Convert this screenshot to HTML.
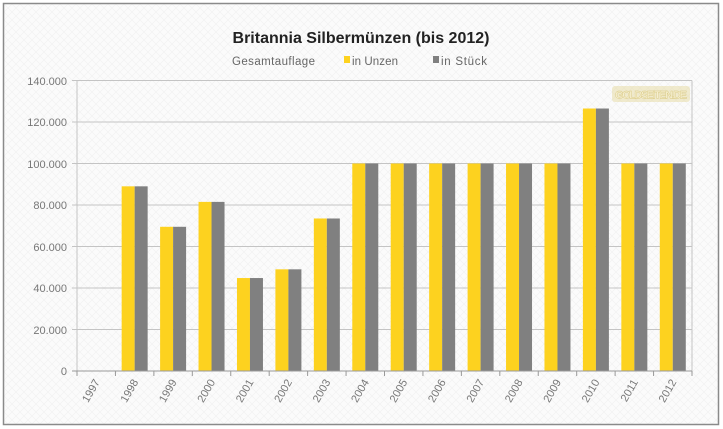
<!DOCTYPE html>
<html><head><meta charset="utf-8"><style>
html,body{margin:0;padding:0;background:#fff;}
svg{display:block;font-family:"Liberation Sans",sans-serif;}
</style></head><body>
<svg width="723" height="429" viewBox="0 0 723 429" xmlns="http://www.w3.org/2000/svg">
<defs>
<pattern id="p" width="8" height="8" patternUnits="userSpaceOnUse">
<rect width="8" height="8" fill="#fbfbfb"/>
<path d="M0 0L8 8M8 0L0 8" stroke="#f0f0f0" stroke-width="0.6"/>
</pattern>
</defs>
<rect x="3.5" y="3.5" width="715" height="421" fill="url(#p)" stroke="#8a8a8a" stroke-width="1.5"/>
<text x="361" y="43" text-anchor="middle" font-size="16" font-weight="bold" fill="#222">Britannia Silbermünzen (bis 2012)</text>
<text x="232" y="65" font-size="11.5" fill="#666" textLength="83">Gesamtauflage</text>
<rect x="344" y="56" width="6" height="7" fill="#fdd21f"/>
<text x="352" y="65" font-size="11.5" fill="#666" textLength="46">in Unzen</text>
<rect x="433" y="56" width="6" height="7" fill="#808080"/>
<text x="441" y="65" font-size="11.5" fill="#666" textLength="46">in Stück</text>
<g stroke="#c4c4c4" stroke-width="1">
<line x1="72" y1="80.5" x2="692" y2="80.5"/>
<line x1="72" y1="122" x2="692" y2="122"/>
<line x1="72" y1="163.5" x2="692" y2="163.5"/>
<line x1="72" y1="205" x2="692" y2="205"/>
<line x1="72" y1="246.5" x2="692" y2="246.5"/>
<line x1="72" y1="288" x2="692" y2="288"/>
<line x1="72" y1="329.5" x2="692" y2="329.5"/>
<line x1="692" y1="80.5" x2="692" y2="371"/>
<line x1="77" y1="80.5" x2="77" y2="371"/>
</g>
<g font-size="11" fill="#777" text-anchor="end">
<text x="67" y="85">140.000</text>
<text x="67" y="126">120.000</text>
<text x="67" y="168">100.000</text>
<text x="67" y="209">80.000</text>
<text x="67" y="251">60.000</text>
<text x="67" y="292">40.000</text>
<text x="67" y="334">20.000</text>
<text x="67" y="375">0</text>
</g>
<rect x="612" y="86" width="78" height="16" rx="3" fill="#e8dca8" opacity="0.55"/>
<text x="651" y="98.5" text-anchor="middle" font-size="11" font-weight="bold" fill="#f6efcf" stroke="#d8c880" stroke-width="0.4" textLength="72">GOLDSEITEN.DE</text>
<g id="bars"></g>
<line x1="72" y1="371" x2="692" y2="371" stroke="#999"/>
<g id="ticks" stroke="#999"></g>
<g id="labels" font-size="11" fill="#777"></g>
<script>
var vals=[0,89000,69500,81500,44800,49000,73500,100000,100000,100000,100000,100000,100000,126500,100000,100000];
var ns="http://www.w3.org/2000/svg",b=document.getElementById("bars"),t=document.getElementById("ticks"),l=document.getElementById("labels");
var w=615/16;
for(var i=0;i<16;i++){
 var c=77+w*(i+0.5),h=vals[i]*41.5/20000;
 if(h>0){
 var r=document.createElementNS(ns,"rect");r.setAttribute("x",c-13);r.setAttribute("y",371-h);r.setAttribute("width",13);r.setAttribute("height",h);r.setAttribute("fill","#fdd21f");b.appendChild(r);
 r=document.createElementNS(ns,"rect");r.setAttribute("x",c);r.setAttribute("y",371-h);r.setAttribute("width",13);r.setAttribute("height",h);r.setAttribute("fill","#808080");b.appendChild(r);}
 var tk=document.createElementNS(ns,"line");var tx=77+w*i;tk.setAttribute("x1",tx);tk.setAttribute("x2",tx);tk.setAttribute("y1",371);tk.setAttribute("y2",376);t.appendChild(tk);
 var tx2=document.createElementNS(ns,"text");tx2.setAttribute("x",c+4);tx2.setAttribute("y",382);tx2.setAttribute("text-anchor","end");tx2.setAttribute("transform","rotate(-60 "+(c+4)+" 382)");tx2.textContent=1997+i;l.appendChild(tx2);
}
var tk=document.createElementNS(ns,"line");tk.setAttribute("x1",692);tk.setAttribute("x2",692);tk.setAttribute("y1",371);tk.setAttribute("y2",376);t.appendChild(tk);
</script>
</svg>
</body></html>
